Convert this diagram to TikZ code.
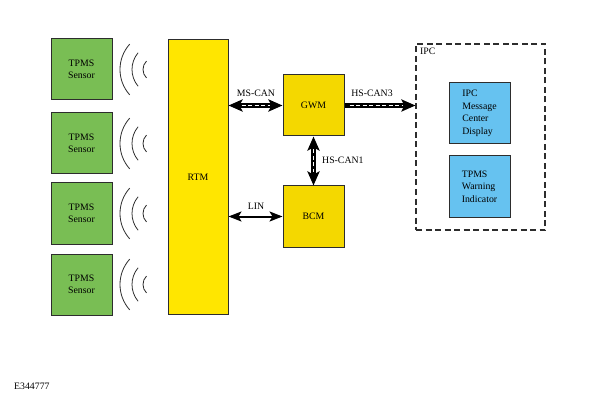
\documentclass[tikz,border=0pt]{standalone}
\usepackage{fontspec}
\setmainfont{Liberation Serif}
\usetikzlibrary{arrows.meta}
\definecolor{sgreen}{RGB}{121,190,84}
\definecolor{ryellow}{RGB}{255,230,0}
\definecolor{gyellow}{RGB}{244,216,0}
\definecolor{iblue}{RGB}{102,194,240}
\definecolor{edge}{RGB}{45,45,45}
\tikzset{
  box/.style={draw=edge,line width=1pt,inner sep=0pt,minimum width=61pt,minimum height=61pt,align=center},
  sensorbox/.style={box,fill=sgreen},
  modbox/.style={box,fill=gyellow},
  bluebox/.style={box,fill=iblue,align=left},
  lbl/.style={inner sep=0pt},
  bus/.style={line width=4.5pt,black,>={Stealth[length=14pt,width=12pt,inset=3pt]}},
  busdash/.style={line width=1.6pt,white,dash pattern=on 4pt off 2.5pt},
  linbus/.style={line width=2pt,black,>={Stealth[length=13pt,width=10pt,inset=3pt]}},
  wave/.style={line width=0.8pt,edge},
}
\begin{document}
\begin{tikzpicture}[x=1pt,y=-1pt,font=\fontsize{9.8}{12.5}\selectfont]
\useasboundingbox (0,0) rectangle (593,403);
% sensors
\foreach \n/\c in {1/69.5,2/143.5,3/213.5,4/284.5}{
  \node[sensorbox] (s\n) at (81.5,\c) {TPMS\\Sensor};
  \draw[wave] ([shift={(158,\c)}]138:38) arc[start angle=138,end angle=222,radius=38];
  \draw[wave] ([shift={(158,\c)}]140:26) arc[start angle=140,end angle=220,radius=26];
  \draw[wave] ([shift={(155,\c)}]135:12) arc[start angle=135,end angle=225,radius=12];
}
% RTM
\node[box,fill=ryellow,minimum width=60pt,minimum height=274pt] (rtm) at (198,177) {RTM};
\node[modbox] (gwm) at (313.5,105.5) {GWM};
\node[modbox] (bcm) at (313.5,216.5) {BCM};
% IPC
\node[draw=edge,line width=1.1pt,dash pattern=on 6pt off 3.5pt,minimum width=129pt,minimum height=186pt,inner sep=0pt] (ipc) at (480.5,137) {};
\node[lbl,anchor=north west] (ipcl) at (420,48) {IPC};
\node[bluebox] (mcd) at (479.5,113.5) {IPC\\Message\\Center\\Display};
\node[bluebox] (twi) at (479.5,186.5) {TPMS\\Warning\\Indicator};
% buses
\coordinate (ms) at (rtm.east |- gwm.west);
\draw[bus,<->] (ms) -- (gwm.west);
\draw[busdash,shorten <=13pt,shorten >=13pt] (ms) -- (gwm.west);
\node[lbl] at (256,93) {MS-CAN};
\coordinate (hs3) at (gwm.east -| ipc.west);
\draw[bus,->] (gwm.east) -- (hs3);
\draw[busdash,shorten <=5pt,shorten >=13pt] (gwm.east) -- (hs3);
\node[lbl] at (372,93) {HS-CAN3};
\draw[bus,<->] (gwm.south) -- (bcm.north);
\draw[busdash,shorten <=13pt,shorten >=13pt] (gwm.south) -- (bcm.north);
\node[lbl,anchor=west] at (322,160) {HS-CAN1};
\coordinate (lin) at (rtm.east |- bcm.west);
\draw[linbus,<->] (lin) -- (bcm.west);
\node[lbl] at (256,206) {LIN};
\node[lbl,anchor=west] at (14,386) {E344777};
\end{tikzpicture}
\end{document}
